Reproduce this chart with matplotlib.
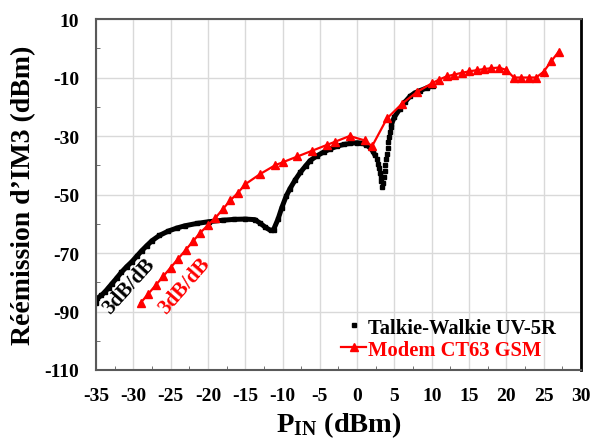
import matplotlib
matplotlib.use("Agg")
import matplotlib.pyplot as plt
import numpy as np

plt.rcParams['font.family'] = ['Liberation Serif', 'DejaVu Serif']
plt.rcParams['font.weight'] = 'bold'
plt.rcParams['axes.labelweight'] = 'bold'
plt.rcParams['axes.unicode_minus'] = False
plt.rcParams['mathtext.fontset'] = 'custom'
plt.rcParams['mathtext.rm'] = 'Liberation Serif:bold'
plt.rcParams['mathtext.bf'] = 'Liberation Serif:bold'

# Talkie-Walkie UV-5R
tw_x = [-35.0, -34.8, -34.3, -33.8, -33.3, -32.9, -32.2, -31.6, -30.9, -30.2,
        -29.5, -28.9, -28.2, -27.5, -26.5, -25.3, -24.2, -23.1, -21.5, -19.9,
        -18.0, -16.5, -15.0, -13.7, -13.0, -12.3, -11.6, -11.2, -10.6, -10.1,
        -9.5, -9.0, -8.3, -7.6, -6.9, -6.3, -5.4, -4.5, -3.6, -2.7,
        -1.8, -0.9, 0.0, 0.7, 1.2, 1.7, 2.1, 2.4, 2.6, 2.8,
        2.95, 3.05, 3.15, 3.25, 3.3, 3.5, 3.6, 3.7, 3.8, 3.9,
        4.0, 4.1, 4.2, 4.3, 4.4, 4.5, 4.6, 5.0, 5.7, 6.4,
        7.1, 7.7, 8.4, 9.3, 10.2]
tw_y = [-87, -85.5, -84.5, -83.3, -81.8, -80.6, -78.5, -76.6, -74.7, -73,
        -71, -69.3, -67.5, -65.8, -64, -62.5, -61.5, -60.7, -59.9, -59.3,
        -58.8, -58.5, -58.4, -58.6, -59.8, -61.2, -62.3, -62, -58.4, -54.5,
        -50.5, -48, -45, -42.4, -40.2, -38.4, -36.8, -35.5, -34.4, -33.5,
        -32.9, -32.5, -32.3, -32.5, -33, -33.9, -35.2, -36.6, -38, -39.5,
        -41, -42.5, -44, -45.5, -47.5, -46, -44, -42, -40, -38,
        -36, -34, -32, -30.5, -28.7, -27, -25.9, -23.5, -20.8, -18.4,
        -16.4, -15.3, -14.5, -13.6, -12.8]

# Modem CT63 GSM
gsm_x = [-29, -28, -27, -26, -25, -24, -23, -22, -21, -20,
         -19, -18, -17, -16, -15, -13, -11, -10, -8, -6,
         -4, -3, -1, 1, 2, 4, 6, 8, 10, 11,
         12, 13, 14, 15, 16, 17, 18, 19, 20, 21,
         22, 23, 24, 25, 26, 27]
gsm_y = [-87, -84, -81, -78, -75, -72, -69, -66, -63, -60.5,
         -58, -55, -52, -49.5, -46.5, -43, -40, -39, -37, -35,
         -33, -32, -30, -31.5, -33.5, -24, -19, -15, -12, -10.7,
         -9.6, -9, -8.4, -7.9, -7.5, -7.1, -6.8, -6.6, -7.4, -10,
         -10, -10, -10, -8, -4.5, -1.2]

xticks = list(range(-35, 31, 5))
yticks = list(range(10, -111, -20))

fig = plt.figure(figsize=(5.9, 4.39), dpi=100)
ax = fig.add_axes([0.1627, 0.1549, 0.822, 0.7995])

ax.grid(True, color='#d9d9d9', linewidth=1)
ax.set_axisbelow(True)

# dense parts drawn as thick line, the steep dip left as separate squares
tw_x = np.array(tw_x)
tw_y = np.array(tw_y)
smooth1 = tw_x <= 2.4
smooth2 = tw_x >= 4.6
ax.plot(tw_x[smooth1], tw_y[smooth1], color='black', lw=3.6, solid_capstyle='butt')
ax.plot(tw_x[smooth2], tw_y[smooth2], color='black', lw=3.6, solid_capstyle='butt')
ax.plot(tw_x, tw_y, 's', color='black', markersize=3, label='Talkie-Walkie UV-5R')

ax.plot(gsm_x, gsm_y, '-^', color='red', lw=1.6, markersize=5.8, label='Modem CT63 GSM')

ax.set_xlim(-35, 30)
ax.set_ylim(-110, 10)
ax.set_xticks(xticks)
ax.set_yticks(yticks)
ax.set_xticklabels([str(v) for v in xticks], fontweight='bold')
ax.set_yticklabels([str(v) for v in yticks], fontweight='bold')
ax.set_xticks(np.arange(-35, 30.1, 2.5), minor=True)
ax.set_yticks(np.arange(-110, 10.1, 10), minor=True)
ax.tick_params(which='major', length=0, labelsize=14)
ax.tick_params(axis='x', which='major', pad=12)
ax.tick_params(axis='y', which='major', pad=12)
ax.tick_params(which='minor', direction='in', length=3, color='#595959')

for s in ['left', 'bottom', 'top']:
    ax.spines[s].set_color('#595959')
    ax.spines[s].set_linewidth(1.5)
ax.spines['right'].set_color('black')
ax.spines['right'].set_linewidth(2)

ax.set_xlabel(r'$\mathbf{P_{IN}}$ (dBm)', fontsize=20.5, fontweight='bold', labelpad=4)
ax.set_ylabel("Réémission d’IM3 (dBm)", fontsize=20, fontweight='bold', labelpad=6)

ax.text(-30.6, -81.3, '3dB/dB', color='black', fontsize=15, fontweight='bold',
        rotation=48, ha='center', va='center')
ax.text(-23.2, -81.0, '3dB/dB', color='red', fontsize=15, fontweight='bold',
        rotation=49, ha='center', va='center')

leg = ax.legend(loc='lower right', frameon=False,
                prop={'size': 14.8, 'weight': 'bold'},
                handlelength=1.2, handletextpad=0.1, labelspacing=0.1,
                borderaxespad=0, bbox_to_anchor=(0.965, 0.006))
for t, c in zip(leg.get_texts(), ['black', 'red']):
    t.set_color(c)

fig.savefig('out.png', dpi=100)
